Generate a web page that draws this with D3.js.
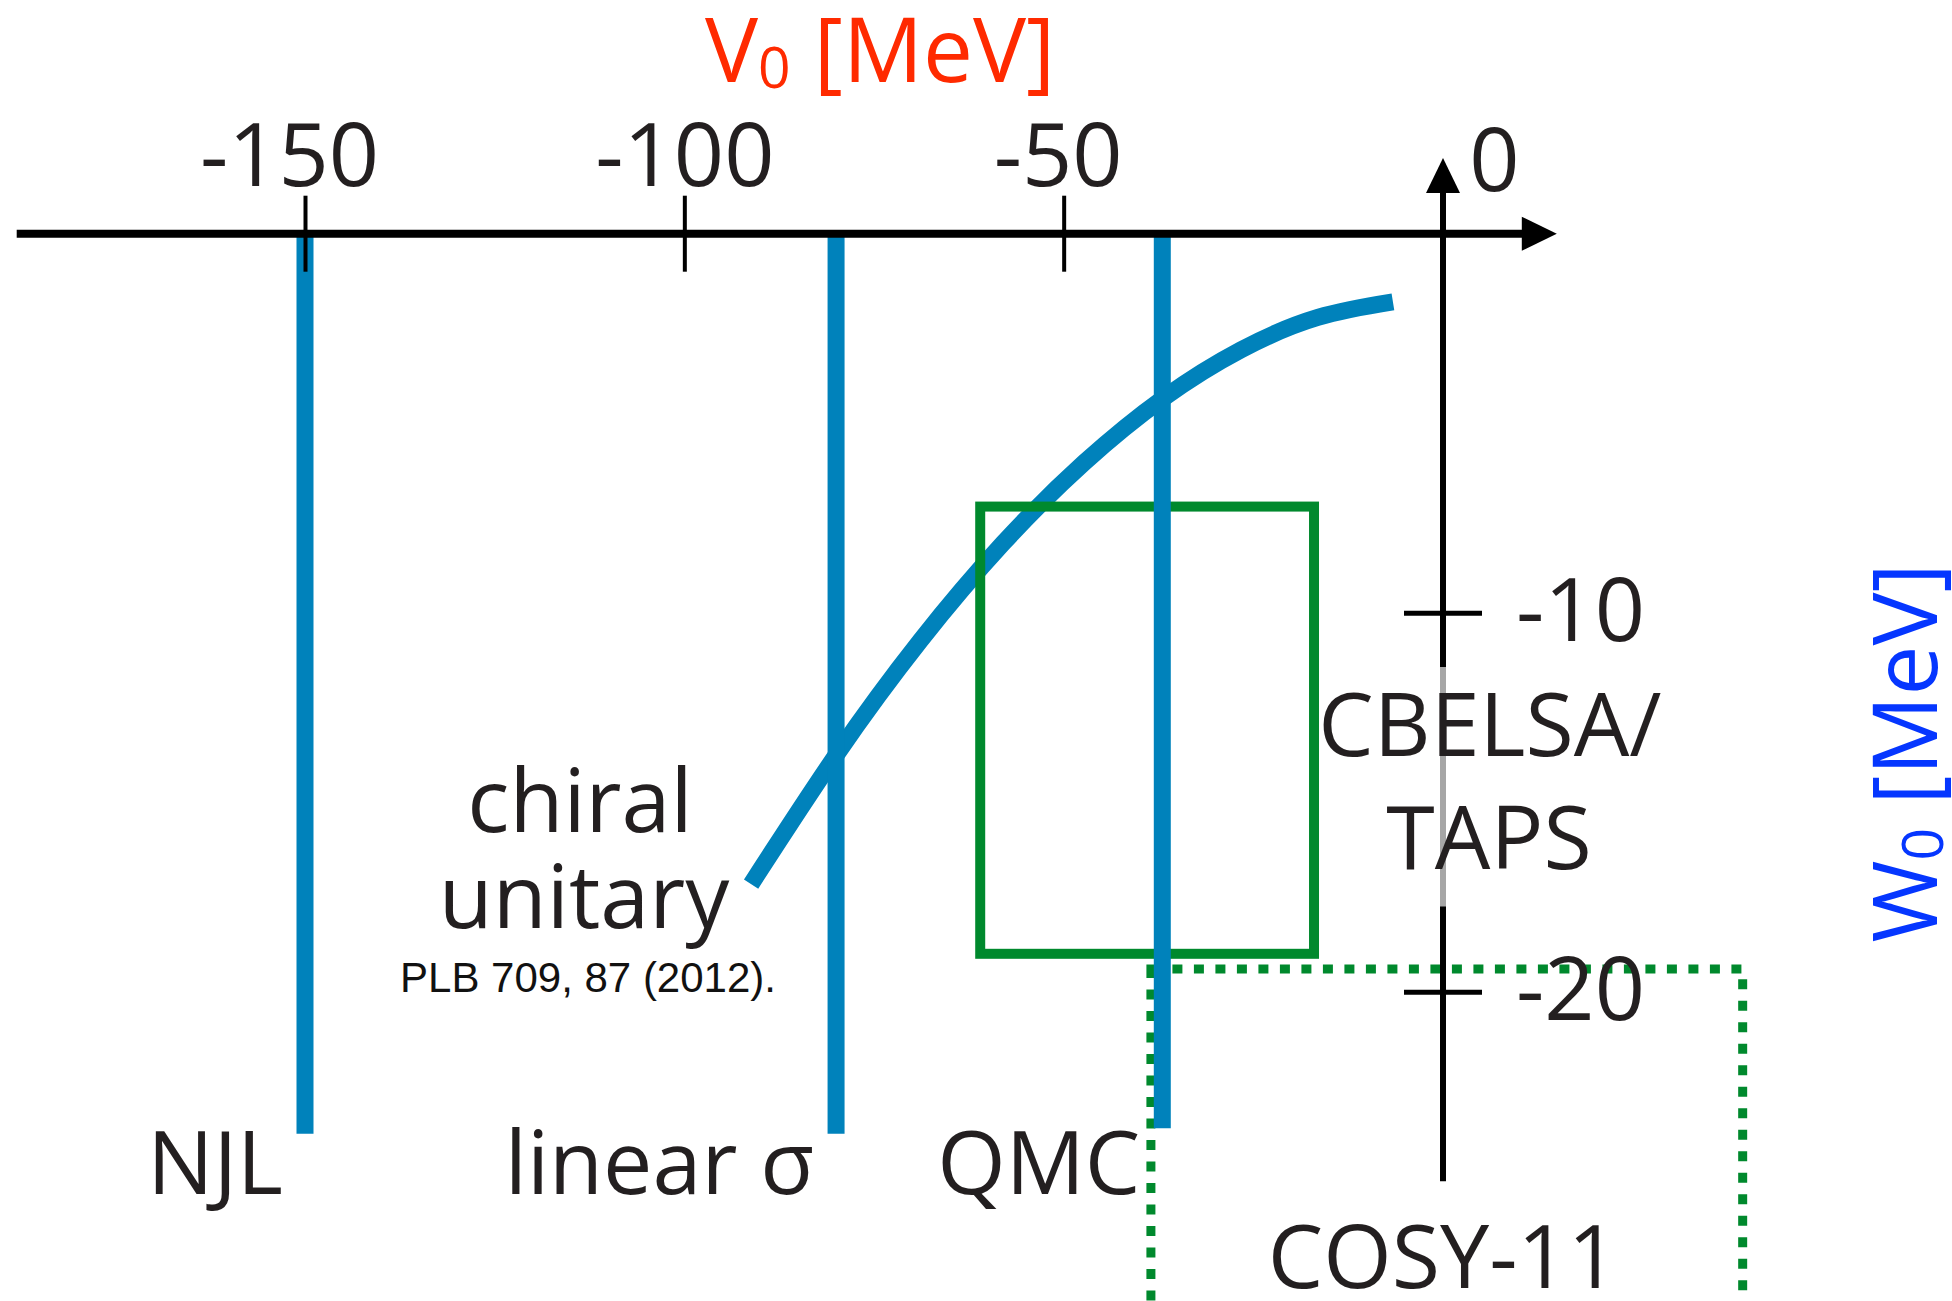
<!DOCTYPE html>
<html>

<head>
    <meta charset="utf-8" />
    <script src="https://d3js.org/d3.v7.min.js"></script>
    <style>
        body {
            margin: 0;
            background: #fff;
        }

        text {
            font-family: 'Open Sans', sans-serif;
            fill: #231f20;
        }
    </style>
</head>

<body>
    <script>
        // tick labels
        const vTicks = [-150, -100, -50, 0];
        const wTicks = [-10, -20];

        // extent of the two drawn axes (MeV)
        const vAxisExtent = [-188, 15];
        const wAxisExtent = [-25, 2];
        // part of the W0 axis shown in grey behind the CBELSA/TAPS label
        const wAxisGrey = [-11.43, -17.75];

        // models drawn as vertical bars
        const modelNames = ['NJL', 'linear σ', 'QMC'];
        const modelV0 = [-150, -80, -37];
        const modelWEnd = [-23.75, -23.75, -23.6];

        // chiral unitary curve
        const chiralV0 = [-91.2, -79.9, -68.9, -58.0, -47.3, -36.8, -26.6, -16.5, -6.6];
        const chiralW0 = [-17.16, -13.73, -10.74, -8.17, -6.04, -4.33, -3.06, -2.21, -1.80];

        // CBELSA/TAPS box (solid) and COSY-11 box (dotted)
        const cbelsaV0 = [-61, -17];
        const cbelsaW0 = [-19.0, -7.2];
        const cosyV0 = [-38.5, 39.5];
        const cosyW0 = [-30, -19.4];

        const width = 1952;
        const height = 1301;

        const blue = '#0082bb';
        const green = '#00892d';

        const svg = d3.select('body')
            .append('svg')
            .attr('width', width)
            .attr('height', height);

        const x = d3.scaleLinear().domain([-150, 0]).range([305, 1443]);
        const y = d3.scaleLinear().domain([0, -20]).range([233.7, 991.7]);

        // COSY-11 dotted box
        svg.append('rect')
            .attr('x', x(cosyV0[0]))
            .attr('y', y(cosyW0[1]))
            .attr('width', x(cosyV0[1]) - x(cosyV0[0]))
            .attr('height', y(cosyW0[0]) - y(cosyW0[1]))
            .attr('fill', 'none')
            .attr('stroke', green)
            .attr('stroke-width', 9)
            .attr('stroke-dasharray', '10 11.5');

        // chiral unitary curve
        const line = d3.line()
            .x(d => x(d[0]))
            .y(d => y(d[1]))
            .curve(d3.curveNatural);

        svg.append('path')
            .datum(chiralV0.map((v, i) => [v, chiralW0[i]]))
            .attr('d', line)
            .attr('fill', 'none')
            .attr('stroke', blue)
            .attr('stroke-width', 17);

        // CBELSA/TAPS box
        svg.append('rect')
            .attr('x', x(cbelsaV0[0]))
            .attr('y', y(cbelsaW0[1]))
            .attr('width', x(cbelsaV0[1]) - x(cbelsaV0[0]))
            .attr('height', y(cbelsaW0[0]) - y(cbelsaW0[1]))
            .attr('fill', 'none')
            .attr('stroke', green)
            .attr('stroke-width', 10);

        // model bars
        svg.selectAll('.model')
            .data(modelNames)
            .enter()
            .append('line')
            .attr('class', 'model')
            .attr('x1', (d, i) => x(modelV0[i]))
            .attr('x2', (d, i) => x(modelV0[i]))
            .attr('y1', y(0))
            .attr('y2', (d, i) => y(modelWEnd[i]))
            .attr('stroke', blue)
            .attr('stroke-width', 17);

        // model labels
        svg.selectAll('.model-label')
            .data(modelNames)
            .enter()
            .append('text')
            .attr('class', 'model-label')
            .attr('x', (d, i) => x(modelV0[i]) - 22)
            .attr('y', 1194)
            .attr('text-anchor', 'end')
            .style('font-size', '88px')
            .text(d => d);

        // horizontal V0 axis
        svg.append('line')
            .attr('x1', x(vAxisExtent[0]))
            .attr('x2', x(vAxisExtent[1]) - 30)
            .attr('y1', y(0))
            .attr('y2', y(0))
            .attr('stroke', '#000')
            .attr('stroke-width', 8);
        const vTip = x(vAxisExtent[1]);
        svg.append('path')
            .attr('d', `M${vTip},${y(0)}L${vTip - 35},${y(0) - 17}L${vTip - 35},${y(0) + 17}Z`)
            .attr('fill', '#000');

        // labels are set by hand in the original, nudge them a little
        const labelNudge = { '-150': -16, '-100': 0, '-50': -6, '0': 51 };

        const xAxis = svg.append('g')
            .attr('transform', `translate(0,${y(0) + 38})`)
            .call(d3.axisTop(x)
                .tickValues(vTicks)
                .tickSizeInner(76)
                .tickSizeOuter(0)
                .tickPadding(10)
                .tickFormat(d => String(d)));
        xAxis.select('.domain').remove();
        xAxis.selectAll('.tick line')
            .attr('stroke', '#000')
            .attr('stroke-width', 4);
        xAxis.selectAll('.tick text')
            .attr('dx', d => labelNudge[String(d)])
            .attr('dy', d => d === 0 ? 5 : 0)
            .style('font-size', '88px')
            .style('font-family', "'Open Sans', sans-serif")
            .attr('fill', '#231f20');

        // vertical W0 axis
        svg.append('line')
            .attr('x1', x(0))
            .attr('x2', x(0))
            .attr('y1', y(wAxisExtent[0]))
            .attr('y2', y(wAxisExtent[1]) + 30)
            .attr('stroke', '#000')
            .attr('stroke-width', 6);
        svg.append('line')
            .attr('x1', x(0))
            .attr('x2', x(0))
            .attr('y1', y(wAxisGrey[0]))
            .attr('y2', y(wAxisGrey[1]))
            .attr('stroke', '#a6a6a6')
            .attr('stroke-width', 6);
        const wTip = y(wAxisExtent[1]);
        svg.append('path')
            .attr('d', `M${x(0)},${wTip}L${x(0) - 17},${wTip + 35}L${x(0) + 17},${wTip + 35}Z`)
            .attr('fill', '#000');

        const yAxis = svg.append('g')
            .attr('transform', `translate(${x(0) - 39},0)`)
            .call(d3.axisRight(y)
                .tickValues(wTicks)
                .tickSizeInner(78)
                .tickSizeOuter(0)
                .tickPadding(34)
                .tickFormat(d => String(d)));
        yAxis.select('.domain').remove();
        yAxis.selectAll('.tick line')
            .attr('stroke', '#000')
            .attr('stroke-width', 5);
        yAxis.selectAll('.tick text')
            .style('font-size', '88px')
            .style('font-family', "'Open Sans', sans-serif")
            .attr('fill', '#231f20');

        // axis titles
        const vTitle = svg.append('text')
            .attr('x', 705)
            .attr('y', 82)
            .style('font-size', '89px')
            .style('fill', '#ff2a00');
        vTitle.append('tspan').text('V');
        vTitle.append('tspan').attr('dy', 6).style('font-size', '57px').text('0');
        vTitle.append('tspan').attr('dy', -6).text(' [MeV]');

        const wTitle = svg.append('text')
            .attr('transform', 'translate(1937,753) rotate(-90)')
            .attr('text-anchor', 'middle')
            .style('font-size', '89px')
            .style('fill', '#0536ff');
        wTitle.append('tspan').text('W');
        wTitle.append('tspan').attr('dy', 6).style('font-size', '57px').text('0');
        wTitle.append('tspan').attr('dy', -6).text(' [MeV]');

        // experiment and curve labels
        svg.append('text')
            .attr('x', 1490).attr('y', 756)
            .attr('text-anchor', 'middle')
            .style('font-size', '88px')
            .text('CBELSA/');
        svg.append('text')
            .attr('x', 1489).attr('y', 869)
            .attr('text-anchor', 'middle')
            .style('font-size', '88px')
            .text('TAPS');
        svg.append('text')
            .attr('x', x(0)).attr('y', 1288)
            .attr('text-anchor', 'middle')
            .style('font-size', '88px')
            .text('COSY-11');

        svg.append('text')
            .attr('x', 580).attr('y', 832)
            .attr('text-anchor', 'middle')
            .style('font-size', '88px')
            .text('chiral');
        svg.append('text')
            .attr('x', 584).attr('y', 928)
            .attr('text-anchor', 'middle')
            .style('font-size', '88px')
            .text('unitary');
        svg.append('text')
            .attr('x', 588).attr('y', 992)
            .attr('text-anchor', 'middle')
            .style('font-size', '42px')
            .style('font-family', "'Liberation Sans', Arial, sans-serif")
            .style('fill', '#111')
            .text('PLB 709, 87 (2012).');
    </script>
</body>

</html>
